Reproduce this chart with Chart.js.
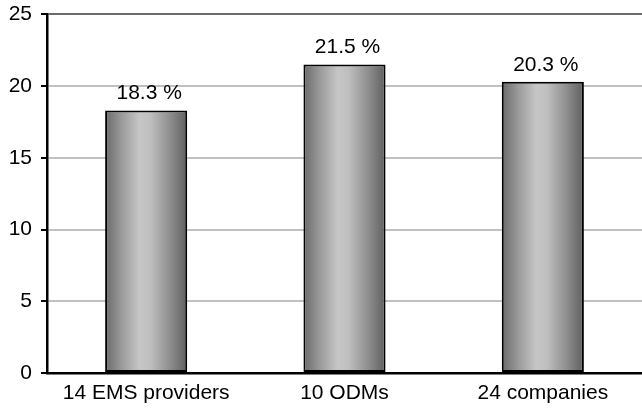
<!DOCTYPE html>
<html>
<head>
<meta charset="utf-8">
<script src="https://cdn.jsdelivr.net/npm/chart.js@4/dist/chart.umd.min.js"></script>
<style>
  html, body { margin: 0; padding: 0; background: #fff; }
  #wrap { width: 642px; height: 408px; position: relative; }
</style>
</head>
<body>
<div id="wrap"><canvas id="c" width="642" height="408"></canvas></div>
<script>
// Chart data
const categories = ['14 EMS providers', '10 ODMs', '24 companies'];
const shareValues = [18.3, 21.5, 20.3];
const yTicks = [0, 5, 10, 15, 20, 25];

const FONT = '"Liberation Sans", Arial, sans-serif';
const FONT_SIZE = 21;
const BAR_FRACTION = 0.414;

// Horizontal grey "cylinder" shading for each bar
function barGradient(ctx) {
  const chart = ctx.chart;
  const xs = chart.scales && chart.scales.x;
  if (!chart.chartArea || !xs) return '#999999';
  const cx = xs.getPixelForValue(ctx.dataIndex);
  const w = (xs.width / categories.length) * BAR_FRACTION;
  const g = chart.ctx.createLinearGradient(cx - w / 2, 0, cx + w / 2, 0);
  g.addColorStop(0.00, '#6a6a6a');
  g.addColorStop(0.20, '#9a9a9a');
  g.addColorStop(0.42, '#c6c6c6');
  g.addColorStop(0.55, '#bfbfbf');
  g.addColorStop(0.80, '#8c8c8c');
  g.addColorStop(1.00, '#5f5f5f');
  return g;
}

// Percentage labels above the bars
const valueLabels = {
  id: 'valueLabels',
  afterDatasetsDraw(chart) {
    const ctx = chart.ctx;
    const meta = chart.getDatasetMeta(0);
    ctx.save();
    ctx.font = FONT_SIZE + 'px ' + FONT;
    ctx.fillStyle = '#000';
    ctx.textAlign = 'center';
    ctx.textBaseline = 'alphabetic';
    meta.data.forEach((el, i) => {
      ctx.fillText(shareValues[i].toFixed(1) + ' %', el.x + 3, el.y - 11);
    });
    ctx.restore();
  }
};

new Chart(document.getElementById('c'), {
  type: 'bar',
  data: {
    labels: categories,
    datasets: [{
      data: shareValues,
      backgroundColor: barGradient,
      borderColor: '#000',
      borderWidth: 2,
      borderSkipped: false,
      categoryPercentage: 1,
      barPercentage: BAR_FRACTION
    }]
  },
  options: {
    responsive: false,
    animation: false,
    devicePixelRatio: 1,
    layout: { padding: { top: 14, right: 0, bottom: 0, left: 0 } },
    plugins: {
      legend: { display: false },
      tooltip: { enabled: false }
    },
    scales: {
      x: {
        afterFit(scale) { scale.height = 35; },
        grid: { display: false, drawTicks: false },
        border: { display: true, color: '#000', width: 2.5 },
        ticks: {
          color: '#000',
          padding: 8,
          font: { family: FONT, size: FONT_SIZE }
        }
      },
      y: {
        min: 0,
        max: 25,
        afterFit(scale) { scale.width = 47; },
        afterBuildTicks(scale) { scale.ticks = yTicks.map(v => ({ value: v })); },
        grid: {
          color: (c) => c.tick && c.tick.value === 25 ? '#6b6b6b'
                        : (c.tick && c.tick.value === 0 ? 'rgba(0,0,0,0)' : '#c0c0c0'),
          lineWidth: 2,
          tickColor: '#000',
          tickLength: 6,
          tickWidth: 2
        },
        border: { display: true, color: '#000', width: 2.5 },
        ticks: {
          color: '#000',
          padding: 9,
          font: { family: FONT, size: FONT_SIZE, lineHeight: 0.5 }
        }
      }
    }
  },
  plugins: [valueLabels]
});
</script>
</body>
</html>
